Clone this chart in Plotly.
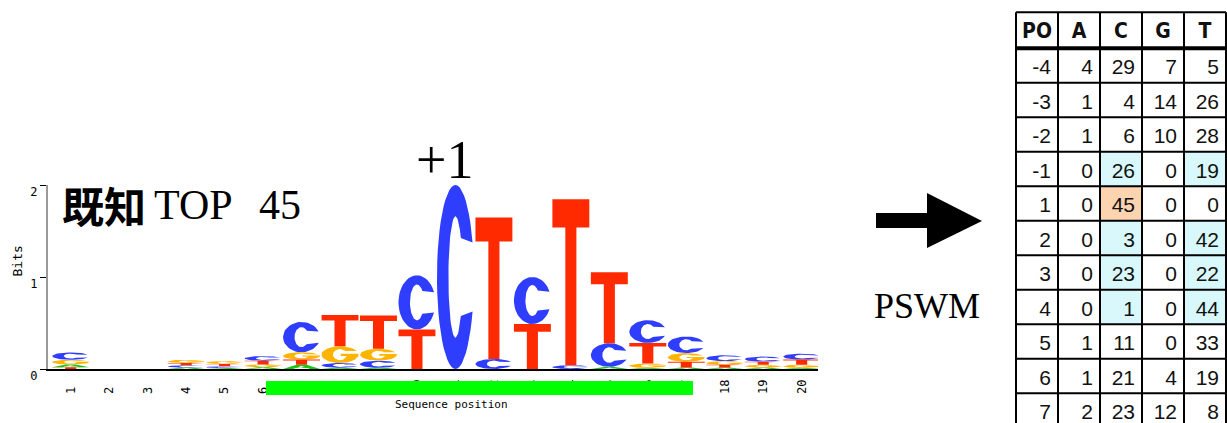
import numpy as np
import plotly.graph_objects as go

W, H = 1227, 423

# ---------------- sequence logo (bits per letter at each position) ----------------
positions = list(range(1, 21))
x_labels = [str(p) for p in positions]
bits_A = [0.030, 0, 0, 0.015, 0.010, 0.020, 0.045, 0.013, 0.013, 0.000, 0.0, 0.000, 0.000, 0.000, 0.023, 0.012, 0.016, 0.015, 0.015, 0.012]
bits_C = [0.080, 0, 0, 0.025, 0.020, 0.050, 0.329, 0.052, 0.078, 0.588, 2.0, 0.110, 0.511, 0.041, 0.257, 0.247, 0.181, 0.065, 0.055, 0.065]
bits_G = [0.050, 0, 0, 0.035, 0.030, 0.030, 0.080, 0.182, 0.129, 0.000, 0.0, 0.000, 0.000, 0.000, 0.000, 0.047, 0.094, 0.040, 0.030, 0.035]
bits_T = [0.020, 0, 0, 0.025, 0.025, 0.040, 0.057, 0.339, 0.362, 0.430, 0.0, 1.537, 0.489, 1.805, 0.772, 0.224, 0.063, 0.030, 0.035, 0.055]
y_ticks = [0, 1, 2]
y_labels = ["0", "1", "2"]

# ---------------- position weight matrix (counts) ----------------
table_header = ["PO", "A", "C", "G", "T"]
table_pos = ["-4", "-3", "-2", "-1", "1", "2", "3", "4", "5", "6", "7"]
count_A = [4, 1, 1, 0, 0, 0, 0, 0, 1, 1, 2]
count_C = [29, 4, 6, 26, 45, 3, 23, 1, 11, 21, 23]
count_G = [7, 14, 10, 0, 0, 0, 0, 0, 0, 4, 12]
count_T = [5, 26, 28, 19, 0, 42, 22, 44, 33, 19, 8]
# highlighted cells: (row label, column) -> 1 = cyan, 2 = peach
highlight = {("-1", "C"): 1, ("-1", "T"): 1, ("1", "C"): 2,
             ("2", "C"): 1, ("2", "T"): 1, ("3", "C"): 1, ("3", "T"): 1,
             ("4", "C"): 1, ("4", "T"): 1}

COLORS = {"A": "#14c814", "C": "#2f3dff", "G": "#ffb400", "T": "#ff2a00"}


# ---------------- letter outlines in a unit box ----------------
def arc(rx, ry, a0, a1, n=48):
    t = np.radians(np.linspace(a0, a1, n))
    return list(0.5 + rx * np.cos(t)), list(0.5 + ry * np.sin(t))


def glyph(letter):
    if letter == "T":
        return ([0, 1, 1, 0.65, 0.65, 0.35, 0.35, 0, 0],
                [1, 1, 0.83, 0.83, 0, 0, 0.83, 0.83, 1])
    if letter == "A":
        return ([0, 0.36, 0.64, 1, 0.73, 0.66, 0.5, 0.5, 0.6, 0.5, 0.4, 0.5, 0.5, 0.34, 0.27, 0],
                [0, 1, 1, 0, 0, 0.22, 0.22, 0.40, 0.40, 0.72, 0.40, 0.40, 0.22, 0.22, 0, 0])
    if letter == "C":
        ox, oy = arc(0.5, 0.5, 22, 338)
        ix, iy = arc(0.19, 0.33, 320, 40)
        return ox + ix + [ox[0]], oy + iy + [oy[0]]
    # G
    ox, oy = arc(0.5, 0.5, 25, 360)
    ix, iy = arc(0.19, 0.33, 340, 40)
    bx = [1.0, 0.52, 0.52, 0.69]
    by = [0.56, 0.56, 0.42, 0.42]
    return ox + bx + ix + [ox[0]], oy + by + iy + [oy[0]]


heights = {"A": bits_A, "C": bits_C, "G": bits_G, "T": bits_T}
letters = ["A", "C", "G", "T"]
half_w = 0.48
poly = {k: ([], []) for k in letters}
for i, p in enumerate(positions):
    stack = sorted(letters, key=lambda k: heights[k][i])
    base = 0.0
    for k in stack:
        h = heights[k][i]
        if h <= 0:
            continue
        gx, gy = glyph(k)
        poly[k][0].extend([p - half_w + 2 * half_w * u for u in gx] + [None])
        poly[k][1].extend([base + h * v for v in gy] + [None])
        base += h

fig = go.Figure()
for k in letters:
    fig.add_trace(go.Scatter(
        x=poly[k][0], y=poly[k][1], mode="lines", fill="toself",
        fillcolor=COLORS[k], line=dict(width=0, color=COLORS[k]),
        hoverinfo="skip", xaxis="x", yaxis="y"))

# ---------------- count table ----------------
count_cols = {"A": count_A, "C": count_C, "G": count_G, "T": count_T}
CW = 42.0          # column width, px
RH = 34.5          # row height, px
HEADER_H = 36.0 / RH
TAB_LEFT, TAB_TOP = 1016, 12.3
n_rows = len(table_pos)

z = [[highlight.get((table_pos[r], c), 0) for c in letters] for r in range(n_rows)]
fig.add_trace(go.Heatmap(
    x=[1.5, 2.5, 3.5, 4.5], y=[r + 0.5 for r in range(n_rows)], z=z,
    zmin=0, zmax=2, showscale=False, hoverinfo="skip",
    colorscale=[[0, "#ffffff"], [0.5, "#d9f8fb"], [1, "#fcd4b0"]],
    xaxis="x3", yaxis="y3"))

pad = 7 / CW
txt_x, txt_y, txt = [], [], []
for r in range(n_rows):
    txt_x.append(1 - pad); txt_y.append(r + 0.6); txt.append(table_pos[r])
    for c, k in enumerate(letters):
        txt_x.append(c + 2 - pad); txt_y.append(r + 0.6); txt.append(str(count_cols[k][r]))
fig.add_trace(go.Scatter(
    x=txt_x, y=txt_y, text=txt, mode="text", textposition="middle left",
    textfont=dict(family="Liberation Sans, Arial, sans-serif", size=21, color="#111111"),
    hoverinfo="skip", xaxis="x3", yaxis="y3"))
fig.add_trace(go.Scatter(
    x=[c + 0.5 for c in range(5)], y=[-HEADER_H / 2 + 0.08] * 5,
    text=["<b>%s</b>" % h for h in table_header], mode="text", textposition="middle center",
    textfont=dict(family="Liberation Sans Narrow, DejaVu Sans Condensed, Liberation Sans, sans-serif",
                  size=21, color="#111111"),
    hoverinfo="skip", xaxis="x3", yaxis="y3"))

shapes = []
for c in range(6):
    shapes.append(dict(type="line", xref="x3", yref="y3", x0=c, x1=c, y0=-HEADER_H, y1=n_rows + 1,
                       line=dict(color="black", width=2)))
shapes.append(dict(type="line", xref="x3", yref="y3", x0=0, x1=5, y0=-HEADER_H, y1=-HEADER_H,
                   line=dict(color="black", width=2)))
shapes.append(dict(type="line", xref="x3", yref="y3", x0=0, x1=5, y0=0, y1=0,
                   line=dict(color="black", width=4)))
for r in range(1, n_rows):
    shapes.append(dict(type="line", xref="x3", yref="y3", x0=0, x1=5, y0=r, y1=r,
                       line=dict(color="black", width=2)))


def px(xp):
    return xp / W


def py(yp):
    return 1 - yp / H


# green bar under the logo
shapes.append(dict(type="rect", xref="paper", yref="paper", layer="above",
                   x0=px(266), x1=px(693), y0=py(395), y1=py(381),
                   fillcolor="#00ff00", line=dict(width=0)))
# arrow
arrow = [(876, 213), (927, 213), (927, 193), (982, 221), (927, 248), (927, 228), (876, 228)]
path = "M " + " L ".join("%.5f,%.5f" % (px(a), py(b)) for a, b in arrow) + " Z"
shapes.append(dict(type="path", xref="paper", yref="paper", path=path,
                   fillcolor="black", line=dict(width=0)))

serif = "Liberation Serif, Times New Roman, serif"
mono = "DejaVu Sans Mono, Liberation Mono, monospace"
annotations = [
    dict(text="<b>既知</b>", x=px(60), y=py(205), xanchor="left", yanchor="middle",
         font=dict(family="Noto Sans CJK JP", size=42, color="black")),
    dict(text="TOP", x=px(152), y=py(205), xanchor="left", yanchor="middle",
         font=dict(family=serif, size=42, color="black")),
    dict(text="45", x=px(257), y=py(205), xanchor="left", yanchor="middle",
         font=dict(family=serif, size=42, color="black")),
    dict(text="+1", x=px(444), y=py(160), xanchor="center", yanchor="middle",
         font=dict(family=serif, size=54, color="black")),
    dict(text="PSWM", x=px(927), y=py(306), xanchor="center", yanchor="middle",
         font=dict(family=serif, size=36, color="black")),
    dict(text="Bits", x=px(16.5), y=py(261), xanchor="center", yanchor="middle", textangle=-90,
         font=dict(family=mono, size=13, color="black")),
    dict(text="Sequence position", x=px(452), y=py(404), xanchor="center", yanchor="middle",
         font=dict(family=mono, size=11, color="black")),
]
for a in annotations:
    a.update(xref="paper", yref="paper", showarrow=False)

# pad single-digit labels so all rotated labels start at the same baseline
tick_text = [s if len(s) > 1 else s + "\u00a0" for s in x_labels]

x_lo = 1 - 22.7 / 38.47
x_hi = 20 + 16.3 / 38.47
tab_dom_left = TAB_LEFT - 2
tab_top_val = -HEADER_H - (TAB_TOP - 10) / RH
fig.update_layout(
    width=W, height=H, margin=dict(l=0, r=0, t=0, b=0, autoexpand=False),
    paper_bgcolor="white", plot_bgcolor="rgba(0,0,0,0)", showlegend=False, hovermode=False,
    xaxis=dict(domain=[px(48), px(818)], range=[x_lo, x_hi], anchor="y", automargin=False,
               tickvals=positions, ticktext=tick_text, tickangle=-90, ticks="",
               ticklabelstandoff=4,
               tickfont=dict(family=mono, size=12, color="black"),
               showline=True, linecolor="black", linewidth=1.5,
               showgrid=False, zeroline=False, fixedrange=True),
    yaxis=dict(domain=[(H - 369) / H, (H - 185) / H], range=[0, 2], anchor="x", automargin=False,
               tickvals=y_ticks, ticktext=y_labels, ticks="outside", ticklen=6,
               tickwidth=1, tickcolor="black", ticklabelshift=7,
               tickfont=dict(family=mono, size=12, color="black"),
               showline=True, linecolor="#9a9a9a", linewidth=2,
               showgrid=False, zeroline=False, fixedrange=True),
    xaxis3=dict(domain=[px(tab_dom_left), 1.0],
                range=[-(TAB_LEFT - tab_dom_left) / CW, (W - TAB_LEFT) / CW],
                anchor="y3", visible=False, fixedrange=True, automargin=False),
    yaxis3=dict(domain=[0, py(10)],
                range=[tab_top_val + (H - 10) / RH, tab_top_val],
                anchor="x3", visible=False, fixedrange=True, automargin=False),
    shapes=shapes, annotations=annotations,
)

fig.write_html("out.html")
